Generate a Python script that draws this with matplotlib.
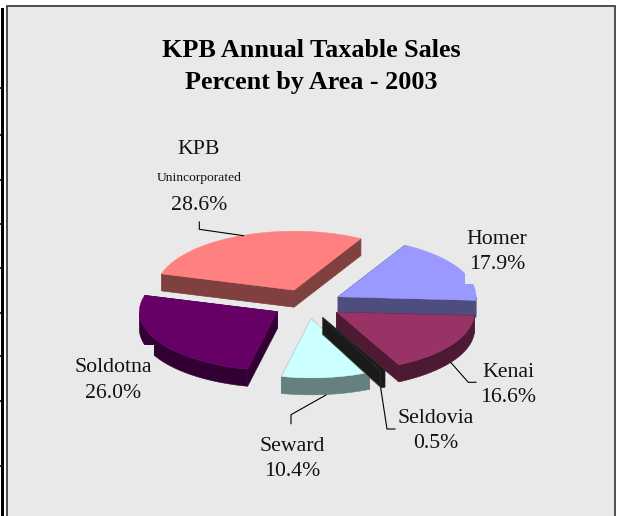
import numpy as np
import matplotlib
matplotlib.use("Agg")
import matplotlib.pyplot as plt
from matplotlib.patches import Polygon, Rectangle

plt.rcParams["font.family"] = ["Liberation Serif", "DejaVu Serif"]

# data, clockwise from the right edge of the KPB slice
areas = ["Homer", "Kenai", "Seldovia", "Seward", "Soldotna", "KPB"]
shares = [17.9, 16.6, 0.5, 10.4, 26.0, 28.6]
top_colors = ["#9999FF", "#993366", "#1A1A1A", "#CCFFFF", "#660066", "#FF8080"]
side_colors = ["#4D4D80", "#4D1933", "#1A1A1A", "#668080", "#330033", "#804040"]
edge_colors = ["#4D4D80", "#4D1933", "#5A5A5A", "#668080", "#330033", "#804040"]
draw_order = ["KPB", "Homer", "Soldotna", "Kenai", "Seward", "Seldovia"]

left_ticks = [88, 135, 180, 224, 268, 313, 356, 401, 466]

bg = "#E9E9E9"
frame = "#404040"
cx, cy = 307.4, 304
rx, ry = 138, 59
depth = 17
explode = 0.2536
start = 61

fig = plt.figure(figsize=(6.22, 5.16), dpi=100)
ax = fig.add_axes([0, 0, 1, 1])
ax.set_xlim(0, 622)
ax.set_ylim(516, 0)
ax.axis("off")

# frame
ax.add_patch(Rectangle((6.9, 5.6), 608, 520, facecolor=bg, edgecolor=frame, linewidth=1.3))
ax.add_patch(Rectangle((1, 8), 2.8, 508, facecolor="black", edgecolor="none"))
for y in left_ticks:
    ax.plot([0, 2], [y, y], color="black", lw=1.2, solid_capstyle="butt")

# pie
ends = start - np.cumsum(shares) * 3.6
begins = np.r_[start, ends[:-1]]

def pt(x0, y0, t):
    return x0 + rx * np.cos(t), y0 - ry * np.sin(t)

for name in draw_order:
    i = areas.index(name)
    t0, t1 = np.radians(begins[i]), np.radians(ends[i])
    mid = (t0 + t1) / 2
    x0 = cx + explode * rx * np.cos(mid)
    y0 = cy - explode * ry * np.sin(mid)
    ts = np.linspace(t0, t1, 80)
    arc_x, arc_y = pt(x0, y0, ts)
    # cut faces
    for t in (t0, t1):
        x, y = pt(x0, y0, t)
        ax.add_patch(Polygon([(x0, y0), (x, y), (x, y + depth), (x0, y0 + depth)],
                             facecolor=side_colors[i], edgecolor=edge_colors[i], linewidth=0.5, zorder=2))
    # outer wall, front part only
    front = np.sin(ts) < 0
    if front.any():
        fx, fy = arc_x[front], arc_y[front]
        wall = np.r_[np.c_[fx, fy], np.c_[fx, fy + depth][::-1]]
        ax.add_patch(Polygon(wall, facecolor=side_colors[i], edgecolor=side_colors[i], linewidth=0.4, zorder=2))
    top = np.r_[[[x0, y0]], np.c_[arc_x, arc_y]]
    ax.add_patch(Polygon(top, facecolor=top_colors[i], edgecolor=top_colors[i], linewidth=0.3, zorder=2))

# label boxes cut into the Homer and Soldotna slices
ax.add_patch(Rectangle((465, 224), 64, 59.5, facecolor=bg, edgecolor="none", zorder=4))
ax.add_patch(Rectangle((73, 345), 81, 60, facecolor=bg, edgecolor="none", zorder=4))

# leader lines
leaders = [
    ([199.3, 199.3, 243.5], [222, 229.3, 235.7]),
    ([451, 468.3, 476], [362.7, 382.3, 382.3]),
    ([380.7, 387, 395], [388, 429, 429]),
    ([291, 291, 326], [423.7, 414.7, 395]),
]
for xs, ys in leaders:
    ax.plot(xs, ys, color="black", lw=0.8, zorder=3)

# text
title_kw = dict(ha="center", va="center", fontsize=18.8, fontweight="bold", color="black")
ax.text(311, 50.5, "KPB Annual Taxable Sales", **title_kw)
ax.text(311, 82.5, "Percent by Area - 2003", **title_kw)

lab = dict(ha="center", va="center", fontsize=15.7, color="#111111", zorder=5)
ax.text(199, 149.5, "KPB", **lab)
ax.text(199, 178, "Unincorporated", ha="center", va="center", fontsize=9.7, color="#111111")
ax.text(199, 205, "28.6%", **lab)

ax.text(497, 252, "Homer\n17.9%", linespacing=1.47, **lab)
ax.text(113, 380.5, "Soldotna\n26.0%", linespacing=1.47, **lab)
ax.text(508, 385, "Kenai\n16.6%", linespacing=1.47, **lab)
ax.text(436, 431, "Seldovia\n0.5%", linespacing=1.47, **lab)
ax.text(292, 459, "Seward\n10.4%", linespacing=1.47, **lab)

fig.savefig("out.png", dpi=100)
